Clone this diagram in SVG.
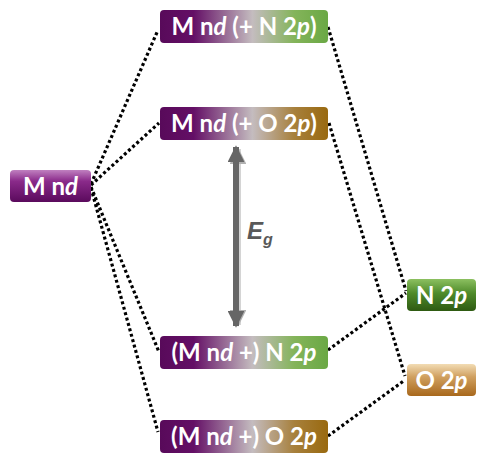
<svg xmlns="http://www.w3.org/2000/svg" width="479" height="454" viewBox="0 0 479 454">
<defs>
<linearGradient id="gN" x1="0" y1="0" x2="1" y2="0">
<stop offset="0" stop-color="#580a5a"/><stop offset="0.2" stop-color="#640f66"/><stop offset="0.55" stop-color="#c4bcbf"/><stop offset="0.8" stop-color="#84b45a"/><stop offset="1" stop-color="#6aa844"/>
</linearGradient>
<linearGradient id="gO" x1="0" y1="0" x2="1" y2="0">
<stop offset="0" stop-color="#580a5a"/><stop offset="0.2" stop-color="#640f66"/><stop offset="0.55" stop-color="#c4bcbf"/><stop offset="0.8" stop-color="#a7803c"/><stop offset="1" stop-color="#99690f"/>
</linearGradient>
<linearGradient id="gM" x1="0" y1="0" x2="0" y2="1">
<stop offset="0" stop-color="#c080c0"/><stop offset="0.35" stop-color="#8a2a8a"/><stop offset="1" stop-color="#5a0a5c"/>
</linearGradient>
<linearGradient id="gN2" x1="0" y1="0" x2="0" y2="1">
<stop offset="0" stop-color="#8cc060"/><stop offset="0.45" stop-color="#4e8a2a"/><stop offset="1" stop-color="#2e5a12"/>
</linearGradient>
<linearGradient id="gO2" x1="0" y1="0" x2="0" y2="1">
<stop offset="0" stop-color="#f2dcb4"/><stop offset="0.4" stop-color="#d0a060"/><stop offset="1" stop-color="#a8681c"/>
</linearGradient>
<marker id="ah" viewBox="0 0 10 10" refX="9" refY="5" markerWidth="2.8" markerHeight="2.8" orient="auto-start-reverse" markerUnits="strokeWidth">
<path d="M0,0 L10,5 L0,10 z" fill="#666"/>
</marker>
</defs>
<style>
.box text{font-family:Lato,"Open Sans","Liberation Sans",sans-serif;font-weight:bold;font-size:24px;fill:#fff;text-anchor:middle}
.dot{fill:none;stroke:#000;stroke-width:3.2;stroke-dasharray:3 2.6}
</style>
<g id="connectors">
<line class="dot" x1="91" y1="184" x2="158" y2="30"/>
<line class="dot" x1="91" y1="185" x2="159" y2="123"/>
<line class="dot" x1="91" y1="187" x2="159" y2="352"/>
<line class="dot" x1="91" y1="188" x2="158" y2="432"/>
<line class="dot" x1="328" y1="27" x2="406" y2="291"/>
<line class="dot" x1="329" y1="123" x2="405" y2="376"/>
<line class="dot" x1="328" y1="350" x2="406" y2="293"/>
<line class="dot" x1="328" y1="436" x2="405" y2="380"/>
</g>
<g id="gap">
<line x1="238" y1="149" x2="238" y2="325" stroke="#aaa" stroke-width="6" marker-start="url(#ah)" marker-end="url(#ah)" opacity="0.5"/>
<line x1="236" y1="147" x2="236" y2="326" stroke="#666" stroke-width="6" marker-start="url(#ah)" marker-end="url(#ah)"/>
<text x="247" y="239" font-family="'Liberation Sans',Arial,sans-serif" font-weight="bold" font-style="italic" font-size="24" fill="#595959">E<tspan font-size="16" dy="6">g</tspan></text>
</g>
<g id="mnd" class="box">
<rect x="10" y="170" width="81" height="32" rx="4" fill="url(#gM)"/>
<text x="50.5" y="194.5">M n<tspan font-style="italic">d</tspan></text>
</g>
<g id="box1" class="box">
<rect x="160" y="10" width="168" height="33" rx="4" fill="url(#gN)"/>
<text x="244" y="35">M n<tspan font-style="italic">d</tspan> (+ N 2<tspan font-style="italic">p</tspan>)</text>
</g>
<g id="box2" class="box">
<rect x="160" y="107" width="168" height="33" rx="4" fill="url(#gO)"/>
<text x="244" y="132">M n<tspan font-style="italic">d</tspan> (+ O 2<tspan font-style="italic">p</tspan>)</text>
</g>
<g id="box4" class="box">
<rect x="160" y="336" width="168" height="33" rx="4" fill="url(#gN)"/>
<text x="244" y="361">(M n<tspan font-style="italic">d</tspan> +) N 2<tspan font-style="italic">p</tspan></text>
</g>
<g id="box5" class="box">
<rect x="160" y="420" width="168" height="33" rx="4" fill="url(#gO)"/>
<text x="244" y="445">(M n<tspan font-style="italic">d</tspan> +) O 2<tspan font-style="italic">p</tspan></text>
</g>
<g id="n2p" class="box">
<rect x="407" y="279" width="69" height="32" rx="4" fill="url(#gN2)"/>
<text x="441.5" y="303.5">N 2<tspan font-style="italic">p</tspan></text>
</g>
<g id="o2p" class="box">
<rect x="407" y="364" width="69" height="32" rx="4" fill="url(#gO2)"/>
<text x="441.5" y="388.5">O 2<tspan font-style="italic">p</tspan></text>
</g>
</svg>
